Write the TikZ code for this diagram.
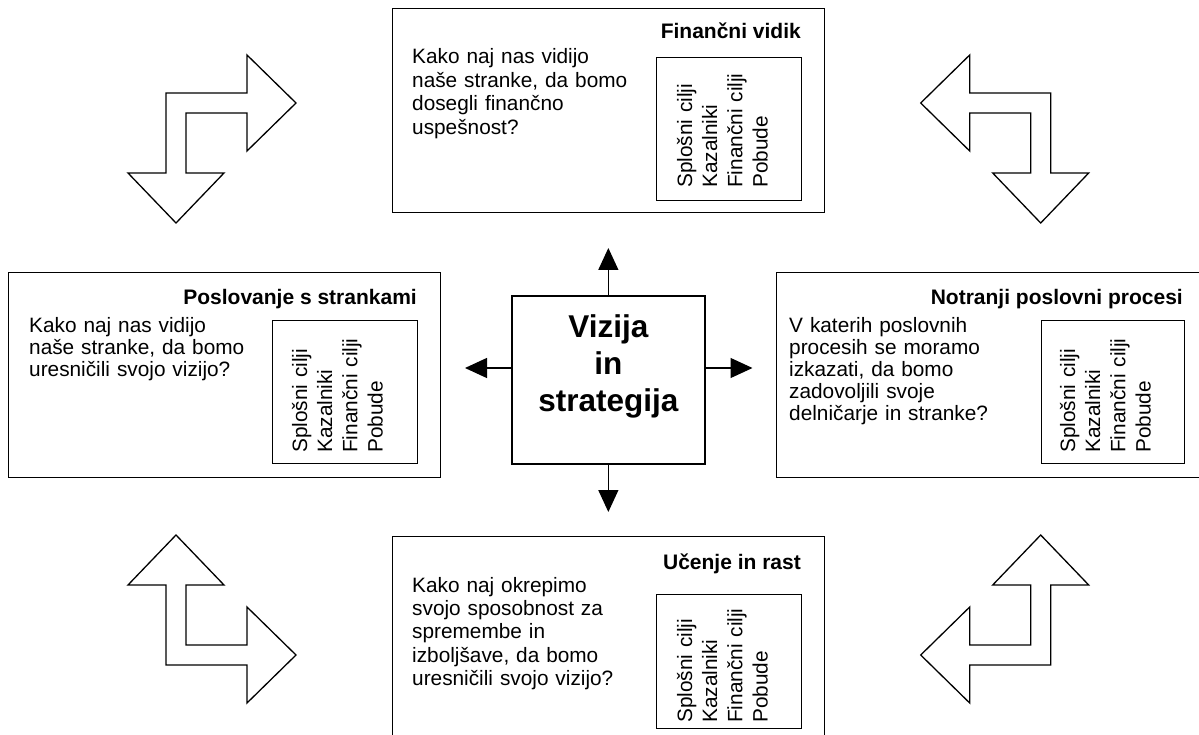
\documentclass[tikz,border=0pt]{standalone}
\usepackage{fontspec}
\setmainfont{Liberation Sans}
\usetikzlibrary{arrows.meta}
\begin{document}
\begin{tikzpicture}[x=1pt,y=-1pt,
  frame/.style={draw, line width=1.3pt, rectangle, inner sep=0pt, anchor=north west},
  inner/.style={draw, line width=1.2pt, rectangle, inner sep=0pt, anchor=north west},
  body/.style={anchor=base west, inner sep=0pt, text width=250pt, align=left},
  bodytop/.style={body, font={\fontsize{20.8}{23.4}\selectfont}},
  bodyside/.style={body, font={\fontsize{20.8}{22}\selectfont}},
  title/.style={anchor=base east, inner sep=0pt, font={\bfseries\fontsize{21}{25}\selectfont}},
  cols/.style={rotate=90, anchor=base west, inner sep=0pt, text width=160pt, align=left, font={\fontsize{20.8}{25.2}\selectfont}},
  conn/.style={line width=1.3pt, -{Triangle[length=22pt,width=20pt]}},
  bent/.style={draw, line width=1.3pt, line join=miter}
]
\useasboundingbox (0,0) rectangle (1199,735);
\fill[white] (0,0) rectangle (1199,735);
\clip (0,0) rectangle (1199,735);

% corner bent arrows (mirrored about x=608.35 and y=379)
\foreach \sx/\sy in {1/1,-1/1,1/-1,-1/-1}{
  \draw[bent]
    ({608.35+\sx*(-312.35)},{379+\sy*(-276)}) --
    ({608.35+\sx*(-361.35)},{379+\sy*(-228)}) --
    ({608.35+\sx*(-361.35)},{379+\sy*(-266)}) --
    ({608.35+\sx*(-422.35)},{379+\sy*(-266)}) --
    ({608.35+\sx*(-422.35)},{379+\sy*(-206)}) --
    ({608.35+\sx*(-384.35)},{379+\sy*(-206)}) --
    ({608.35+\sx*(-432.35)},{379+\sy*(-156)}) --
    ({608.35+\sx*(-480.35)},{379+\sy*(-206)}) --
    ({608.35+\sx*(-442.35)},{379+\sy*(-206)}) --
    ({608.35+\sx*(-442.35)},{379+\sy*(-286)}) --
    ({608.35+\sx*(-361.35)},{379+\sy*(-286)}) --
    ({608.35+\sx*(-361.35)},{379+\sy*(-324)}) -- cycle;
}

% top box: Financni vidik
\node[frame, minimum width=432pt, minimum height=204pt] (topbox) at (392,8) {};
\node[inner, minimum width=145pt, minimum height=143pt] (topin) at (656,57) {};
\node[title] (toptitle) at (801,39) {Finančni vidik};
\node[bodytop] (toptext) at (412,64) {Kako naj nas vidijo\\naše stranke, da bomo\\dosegli finančno\\uspešnost?};
\node[cols] (topcols) at (692,188) {Splošni cilji\\Kazalniki\\Finančni cilji\\Pobude};

% left box: Poslovanje s strankami
\node[frame, minimum width=432pt, minimum height=205pt] (leftbox) at (8,272) {};
\node[inner, minimum width=145pt, minimum height=143pt] (leftin) at (272,320) {};
\node[title] (lefttitle) at (417,305) {Poslovanje s strankami};
\node[bodyside] (lefttext) at (29,332) {Kako naj nas vidijo\\naše stranke, da bomo\\uresničili svojo vizijo?};
\node[cols] (leftcols) at (307,453) {Splošni cilji\\Kazalniki\\Finančni cilji\\Pobude};

% right box: Notranji poslovni procesi
\node[frame, minimum width=440pt, minimum height=205pt] (rightbox) at (776,272) {};
\node[inner, minimum width=143pt, minimum height=143pt] (rightin) at (1041,320) {};
\node[title] (righttitle) at (1183,305) {Notranji poslovni procesi};
\node[bodyside] (righttext) at (789,332) {V katerih poslovnih\\procesih se moramo\\izkazati, da bomo\\zadovoljili svoje\\delničarje in stranke?};
\node[cols] (rightcols) at (1075,453) {Splošni cilji\\Kazalniki\\Finančni cilji\\Pobude};

% bottom box: Ucenje in rast
\node[frame, minimum width=432pt, minimum height=220pt] (botbox) at (392,536) {};
\node[inner, minimum width=145pt, minimum height=134pt] (botin) at (656,594) {};
\node[title] (bottitle) at (801,569) {Učenje in rast};
\node[bodytop] (bottext) at (412,592) {Kako naj okrepimo\\svojo sposobnost za\\spremembe in\\izboljšave, da bomo\\uresničili svojo vizijo?};
\node[cols] (botcols) at (692,723) {Splošni cilji\\Kazalniki\\Finančni cilji\\Pobude};

% center
\node[draw, line width=1.3pt, rectangle, inner sep=0pt, minimum width=193pt, minimum height=168pt] (vis) at (608.35,380) {};
\node[anchor=base, inner sep=0pt, text width=190pt, align=center, font={\bfseries\fontsize{31.5}{37}\selectfont}] (vistext) at (608.35,337) {Vizija\\in\\strategija};

\coordinate (tipup) at (608.35,248);
\coordinate (tipdown) at (608.35,512);
\coordinate (tipleft) at (465,368);
\coordinate (tipright) at (752.5,368);
\draw[conn] (vis.north) -- (tipup);
\draw[conn] (vis.south) -- (tipdown);
\draw[conn] (vis.west |- tipleft) -- (tipleft);
\draw[conn] (vis.east |- tipright) -- (tipright);
\end{tikzpicture}
\end{document}
